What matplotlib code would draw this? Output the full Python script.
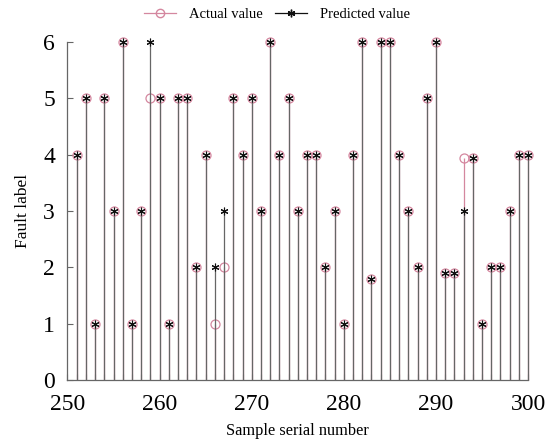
import matplotlib.pyplot as plt
from matplotlib.lines import Line2D
from matplotlib.legend_handler import HandlerLine2D
from matplotlib.ticker import MultipleLocator

plt.rcParams['font.family'] = ['Liberation Serif', 'DejaVu Serif']

# sample numbers 251..300
samples = list(range(251, 301))
actual = [4, 5, 1, 5, 3, 6, 1, 3, 5, 5,
          1, 5, 5, 2, 4, 1, 2, 5, 4, 5,
          3, 6, 4, 5, 3, 4, 4, 2, 3, 1,
          4, 6, 1.8, 6, 6, 4, 3, 2, 5, 6,
          1.9, 1.9, 3.95, 3.95, 1, 2, 2, 3, 4, 4]
predicted = [4, 5, 1, 5, 3, 6, 1, 3, 6, 5,
             1, 5, 5, 2, 4, 2, 3, 5, 4, 5,
             3, 6, 4, 5, 3, 4, 4, 2, 3, 1,
             4, 6, 1.8, 6, 6, 4, 3, 2, 5, 6,
             1.9, 1.9, 3, 3.95, 1, 2, 2, 3, 4, 4]

pink = '#d4879f'
grey = '#666666'
asterisk = (6, 2, 0)


class EndMarker(HandlerLine2D):
    # put the legend marker at the right end of the line
    def get_xdata(self, legend, xdescent, ydescent, width, height, fontsize):
        return [-xdescent, -xdescent + width], [-xdescent + width]


fig = plt.figure(figsize=(5.53, 4.43), dpi=100)
ax = fig.add_axes([0.122, 0.142, 0.833, 0.763])

# actual value stems
ml, sl, bl = ax.stem(samples, actual, linefmt='-', markerfmt='o', basefmt=' ')
plt.setp(sl, color=pink, linewidth=0.9, clip_on=False)
plt.setp(ml, markerfacecolor='none', markeredgecolor=pink, markersize=6.5,
         markeredgewidth=0.9, clip_on=False)

# predicted value stems
ml2, sl2, bl2 = ax.stem(samples, predicted, linefmt='-', markerfmt='o', basefmt=' ')
plt.setp(sl2, color=grey, linewidth=0.9, clip_on=False)
plt.setp(ml2, marker=asterisk, color='#111111', markersize=5.5,
         markeredgewidth=0.8, clip_on=False)

ax.set_xlim(250, 300)
ax.set_ylim(0, 6)
ax.xaxis.set_major_locator(MultipleLocator(10))
ax.xaxis.set_minor_locator(MultipleLocator(1))
ax.yaxis.set_major_locator(MultipleLocator(1))
ax.tick_params(which='both', direction='in', length=4, width=0.8,
               color=grey, labelsize=17)
ax.tick_params(axis='x', which='major', pad=10)
ax.tick_params(axis='y', pad=9)
for s in ['top', 'right']:
    ax.spines[s].set_visible(False)
for s in ['left', 'bottom']:
    ax.spines[s].set_color(grey)
    ax.spines[s].set_linewidth(0.9)

ax.set_xlabel('Sample serial number', fontsize=11.8, labelpad=6)
ax.set_ylabel('Fault label', fontsize=12.5, labelpad=9)

h1 = Line2D([], [], color=pink, lw=0.9, marker='o', markerfacecolor='none',
            markeredgecolor=pink, markersize=6)
h2 = Line2D([], [], color='#111111', lw=0.9, marker=asterisk, markersize=5.5)
ax.legend([h1, h2], ['Actual value', 'Predicted value'], ncol=2,
          loc='lower center', bbox_to_anchor=(0.455, 1.045), frameon=False,
          fontsize=10.5, handler_map={Line2D: EndMarker()},
          handlelength=2.2, handletextpad=0.9, columnspacing=0.8,
          borderaxespad=0)

fig.savefig('out.png', dpi=100)
